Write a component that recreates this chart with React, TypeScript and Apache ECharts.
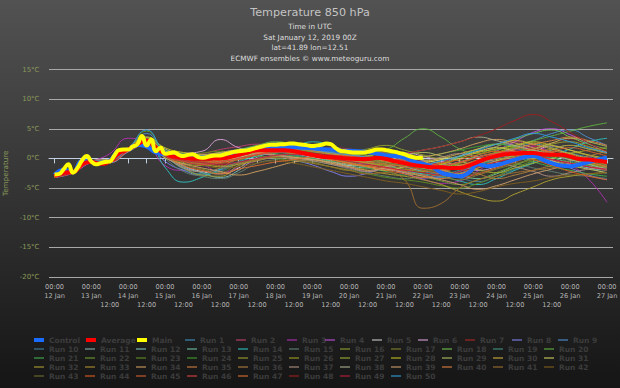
import React, { useEffect, useRef } from "react";
import * as echarts from "echarts";

// ---- time steps (hours after 12 Jan 2019 00Z) ----
const runStepH = 12;
const ctlStepH = 6;
const mainStepH = 3;

// ---- thick lines ----
const controlTemps = [
  -2.8, -1.9, -2.3, -0.4, -0.6, -0.8, -0.4, 1.3, 1.5, 2.3,
  2.0, 1.0, 0.7, 0.6, 0.4, 0.3, 0.2, 0.2, 0.3, 0.6,
  1.0, 1.3, 1.6, 1.8, 1.9, 1.9, 1.9, 1.8, 1.7, 1.6,
  1.5, 1.3, 1.3, 1.2, 1.1, 0.8, 0.5, 0.4, 0.1, -0.5,
  -0.9, -1.4, -2.4, -2.8, -3.0, -2.4, -1.0, -1.3, -1.1, -0.7,
  -0.2, 0.2, 0.4, -0.2, -0.8, -1.2, -1.3, -1.0, -0.6, -0.2,
  0.1,
];
const averageTemps = [
  -3.0, -2.4, -2.3, -1.0, -0.6, -0.9, -0.5, 0.9, 1.5, 2.4,
  3.0, 1.8, 0.8, 0.3, 0.1, 0.0, 0.0, 0.0, 0.0, 0.2,
  0.6, 1.0, 1.4, 1.4, 1.4, 1.4, 1.2, 0.9, 0.6, 0.3,
  0.2, 0.1, 0.0, -0.1, -0.1, 0.1, -0.1, -0.5, -0.8, -1.1,
  -1.3, -1.5, -1.5, -1.6, -1.6, -1.2, -0.6, 0.0, 0.4, 0.7,
  0.8, 0.9, 0.9, 0.7, 0.6, 0.6, 0.3, -0.1, -0.2, -0.4,
  -0.6,
];
const mainTemps = [
  -2.7, -2.6, -1.8, -1.0, -2.4, -1.6, -0.3, 0.4, -0.5, -1.0,
  -0.8, -0.6, -0.5, 0.5, 1.4, 1.5, 1.5, 2.0, 2.4, 3.8,
  2.2, 3.2, 1.2, 1.8, 0.8, 0.9, 1.0, 0.6, 0.4, 0.6,
  0.7, 0.3, 0.1, 0.2, 0.4, 0.5, 0.5, 0.7, 0.9, 1.1,
  1.2, 1.3, 1.4, 1.6, 1.8, 2.0, 2.2, 2.3, 2.3, 2.4,
  2.4, 2.5, 2.5, 2.4, 2.3, 2.2, 2.1, 2.2, 2.3, 2.5,
  2.4, 1.8, 1.3, 1.2, 1.1, 1.0, 1.0, 1.0, 1.1, 1.3,
  1.5, 1.5, 1.4, 1.25, 1.1, 0.9, 0.7, 0.4, 0.2, 0.1,
  0.1,
];

// ---- ensemble members, every 12 h ----
const runTemps: number[][] = [
  [-3.1,-2.4,-0.7,-0.5,1.3,2.8,0.5,-0.3,-0.6,-0.2,0.4,1.0,1.6,1.8,1.2,0.5,-0.4,-1.0,-0.6,-1.4,-2.2,-2.8,-3.0,-1.5,0.2,1.5,2.4,1.8,0.9,0.2,-0.5],
  [-2.9,-2.2,-0.5,-0.2,1.7,3.4,1.2,0.4,0.8,1.5,2.0,2.4,2.1,1.6,1.0,0.6,0.8,1.2,0.5,-0.3,-1.0,-0.6,0.3,1.1,2.0,2.8,2.2,1.0,0.4,-0.6,-1.4],
  [-3.0,-2.3,-0.6,0.8,3.4,2.6,-1.2,-2.0,-1.2,-2.4,-1.5,-0.4,0.2,0.6,0.1,-0.8,-1.5,-2.2,-1.8,-2.6,-3.5,-4.2,-3.8,-2.1,0.0,1.0,2.0,1.0,-1.0,-3.5,-7.4],
  [-3.2,-2.5,-0.8,-0.6,1.2,2.6,0.2,-1.0,-0.5,0.3,1.0,1.8,2.2,1.5,0.9,0.2,-0.3,0.4,1.1,0.6,-0.4,-1.8,-2.6,-1.0,1.2,2.8,4.4,5.0,4.0,2.5,1.0],
  [-3.0,-2.2,-0.5,-0.6,1.4,2.9,0.9,-1.2,-2.2,-2.6,-1.6,0.5,1.0,0.8,0.2,-0.5,-1.2,-0.8,-1.5,-2.0,-1.7,-1.2,-0.6,0.3,0.9,1.2,0.6,-0.2,-0.9,-1.3,-1.8],
  [-2.8,-2.1,-0.4,-0.1,1.8,3.6,1.6,0.9,1.2,3.2,1.8,1.2,1.5,1.9,1.4,0.7,0.2,-0.4,0.3,0.9,0.4,-0.5,-1.2,-2.0,-1.4,-0.2,1.0,2.1,1.4,0.5,-0.3],
  [-3.1,-2.3,-0.7,-0.4,1.5,3.1,0.6,-0.4,-0.2,0.0,0.5,1.1,1.0,0.9,1.3,1.8,1.6,1.0,0.6,0.1,-0.5,-1.0,-0.8,0.2,1.0,1.4,1.9,2.6,3.3,2.0,0.8],
  [-3.0,-2.4,-0.6,-0.7,1.1,2.4,-0.5,-2.0,-2.8,-1.9,-0.9,0.0,0.4,-0.3,-1.1,-2.2,-3.0,-2.5,-1.6,-2.4,-3.3,-3.0,-2.2,-1.0,0.5,1.6,1.0,-0.4,-1.6,-2.8,-3.6],
  [-2.9,-2.3,-0.5,-0.3,1.6,4.2,1.0,0.2,-0.4,0.4,1.2,2.0,2.6,2.3,1.7,1.0,0.2,-0.5,-1.2,-2.0,-2.7,-3.2,-2.5,-1.2,0.4,1.8,3.0,4.2,4.8,3.5,2.2],
  [-3.1,-2.2,-0.6,-0.5,1.3,2.7,0.3,-1.6,-2.6,-2.0,0.0,0.8,1.2,1.4,0.6,-0.2,-0.6,-0.2,0.4,-0.6,-1.6,-2.5,-3.3,-3.9,-3.0,-1.8,-0.6,0.4,-0.4,-1.5,-2.6],
  [-3.0,-2.3,-0.6,-0.2,1.6,3.0,1.1,0.5,0.2,0.4,0.9,1.6,2.0,1.8,1.1,0.4,-0.2,0.0,0.6,0.2,-0.3,-0.9,-1.4,-0.8,0.1,0.5,1.2,0.8,0.0,-0.7,-1.2],
  [-2.9,-2.2,-0.4,-0.4,1.5,2.9,0.7,-1.4,-2.4,-3.2,-2.0,0.2,0.9,1.3,0.5,-0.4,-1.2,-1.6,-0.9,-1.4,-2.0,-1.0,0.4,1.6,2.4,2.0,1.3,0.2,-0.8,-1.6,-2.0],
  [-3.2,-2.4,-0.7,-0.6,1.4,2.8,0.4,-0.6,-0.9,-0.4,0.6,1.4,1.7,2.2,1.6,0.8,0.5,0.8,0.0,-0.8,-1.3,-2.0,-2.8,-3.4,-2.6,-1.2,0.2,1.4,2.2,1.6,1.0],
  [-3.0,-2.3,-0.5,-0.3,1.6,3.2,-1.5,-4.0,-3.2,-1.8,-0.6,0.4,1.2,1.9,2.8,2.2,1.0,0.0,-1.0,-2.0,-2.6,-3.0,-3.8,-4.4,-3.4,-2.0,-0.8,0.4,1.6,2.8,3.4],
  [-3.1,-2.4,-0.6,-0.5,1.2,2.6,0.0,-2.2,-3.0,-3.4,-2.4,-0.8,-0.2,0.2,-0.4,-1.0,-1.8,-2.4,-3.0,-3.4,-2.8,-2.0,-1.4,-0.6,0.0,-0.8,-1.6,-2.2,-2.8,-3.0,-3.4],
  [-2.9,-2.2,-0.5,-0.3,1.7,3.2,1.4,0.6,0.3,0.8,1.4,1.9,1.6,1.1,0.7,0.3,0.9,1.6,2.2,1.4,0.6,-0.2,-1.0,-0.4,0.8,1.9,2.6,1.8,0.6,-0.4,-1.0],
  [-3.0,-2.3,-0.6,-0.4,1.5,3.0,0.8,-1.0,-1.8,-2.4,-0.8,-0.2,0.4,0.0,-0.6,-1.4,-2.0,-1.5,-0.9,-1.6,-2.4,-3.0,-3.6,-2.8,-1.8,-1.0,-0.2,0.4,1.0,0.5,-0.2],
  [-3.1,-2.3,-0.6,-0.6,1.3,2.8,0.6,0.1,0.5,1.0,1.5,2.2,2.8,2.4,1.8,1.2,0.8,0.5,0.0,-0.6,-1.0,-1.2,-0.6,0.6,2.0,3.2,4.2,4.8,3.6,2.4,1.6],
  [-3.0,-2.4,-0.7,-0.5,1.4,2.9,0.5,-1.8,-2.6,-2.2,-0.5,0.6,1.0,0.6,0.0,-0.6,-0.3,0.3,-0.4,-1.2,-2.0,-2.6,-2.0,-1.1,-0.4,0.4,1.2,0.6,-0.2,-1.0,-2.0],
  [-2.9,-2.2,-0.5,-0.3,1.8,3.5,1.5,0.8,0.5,0.2,0.6,1.2,1.4,0.9,0.4,0.0,0.4,1.0,1.5,3.4,5.0,3.6,1.6,0.8,1.4,2.2,3.0,3.8,4.6,5.4,6.0],
  [-3.0,-2.3,-0.6,-0.4,1.6,3.1,0.9,0.2,-0.2,0.0,0.5,1.0,0.8,0.4,0.0,-0.5,-1.0,-1.6,-2.2,-2.8,-2.0,-1.0,0.2,1.4,1.0,0.2,-0.6,-1.4,-2.0,-2.6,-3.0],
  [-3.1,-2.4,-0.7,-0.6,1.3,2.7,0.4,-0.4,-0.8,-0.6,-0.2,0.6,1.1,1.5,1.2,0.6,0.0,-0.8,-1.4,-2.2,-3.0,-3.8,-4.4,-3.6,-2.4,-1.2,0.0,0.8,0.2,-0.8,-1.8],
  [-3.0,-2.2,-0.5,-0.2,1.7,4.6,1.3,0.6,0.9,1.2,0.8,0.4,0.0,-0.4,-0.8,-1.4,-2.0,-2.6,-3.2,-3.6,-4.0,-4.6,-5.0,-4.2,-3.0,-1.6,-0.4,0.6,0.0,-0.8,-1.4],
  [-2.9,-2.3,-0.6,-0.5,1.5,3.0,0.6,-0.2,-0.5,-0.1,0.7,1.5,2.0,1.7,1.0,0.4,-0.1,-0.6,-1.0,-0.6,0.2,0.8,1.4,2.0,2.4,1.8,1.0,0.2,-0.6,-1.2,-1.6],
  [-3.0,-2.3,-0.6,-0.4,1.4,2.8,0.5,-1.6,-2.8,-3.0,-1.2,-0.4,0.3,0.8,0.4,0.0,-0.6,-1.2,-0.8,-0.2,-0.9,-1.8,-2.5,-1.6,-0.4,0.6,1.5,2.4,2.8,2.0,1.2],
  [-3.1,-2.4,-0.7,-0.5,1.3,2.7,0.2,-0.8,-1.2,-0.7,0.2,1.0,1.5,1.2,0.6,0.1,-0.4,-0.8,-1.2,-1.8,-2.2,-1.6,-0.8,0.2,1.0,1.8,1.4,0.6,-0.2,-0.9,-1.5],
  [-3.0,-2.2,-0.5,-0.3,1.6,3.1,1.0,0.3,0.0,0.3,0.9,1.6,1.9,1.5,0.9,0.3,0.0,0.4,0.9,0.4,-0.2,-0.8,-1.3,-1.9,-2.4,-1.6,-0.8,0.0,0.8,1.4,1.8],
  [-2.9,-2.2,-0.4,-0.2,1.8,3.6,1.8,1.0,0.6,0.2,0.8,1.4,1.8,2.0,1.4,0.8,0.4,0.0,-0.4,-1.0,-1.6,-1.0,0.0,1.0,1.6,2.2,2.8,2.2,1.4,0.6,0.0],
  [-3.0,-2.3,-0.6,-0.4,1.5,3.0,0.8,0.0,-0.4,-0.2,0.4,1.2,1.6,1.3,0.8,0.2,-0.2,-0.6,-0.2,0.4,1.0,0.4,-0.4,-1.2,-0.4,0.6,1.6,2.6,3.4,2.8,2.0],
  [-3.1,-2.4,-0.6,-0.5,1.4,2.9,0.7,0.1,0.4,0.7,1.2,1.6,1.4,1.0,0.6,0.2,-0.2,-0.4,-0.8,-1.2,-0.6,0.0,0.8,1.6,2.4,3.0,2.4,1.6,0.8,0.0,-0.6],
  [-3.0,-2.3,-0.5,-0.3,1.6,3.2,1.1,0.4,0.1,-0.3,0.2,0.9,1.2,1.0,0.4,-0.2,-0.8,-1.4,-2.0,-1.4,-0.8,-0.2,0.4,1.2,1.8,1.2,0.4,-0.4,-1.2,-1.8,-2.4],
  [-3.0,-2.3,-0.6,-0.5,1.4,2.8,0.4,-0.5,-0.9,-1.4,-1.0,-0.2,0.4,0.2,-0.2,-0.8,-1.4,-2.0,-2.6,-3.0,-3.6,-4.4,-5.6,-6.6,-7.2,-6.0,-4.8,-3.6,-3.0,-2.6,-2.4],
  [-2.9,-2.2,-0.5,-0.4,1.5,3.0,0.9,0.2,-0.2,0.3,1.0,1.7,2.1,1.8,1.2,0.6,0.2,-0.2,-0.6,-1.0,-1.4,-1.8,-1.4,-0.8,-0.2,0.4,1.0,1.6,2.2,1.6,0.8],
  [-3.1,-2.4,-0.7,-0.6,1.2,2.6,0.1,-0.9,-1.6,-2.2,-2.8,-2.2,-1.4,-0.6,-0.2,-0.8,-1.4,-2.0,-1.4,-0.6,0.2,0.8,1.6,2.6,3.2,2.6,1.8,1.0,0.2,-0.6,-1.2],
  [-3.0,-2.3,-0.6,-0.4,1.5,3.0,0.6,-0.2,0.2,0.8,1.3,1.8,1.5,0.9,0.4,0.0,-0.4,-0.9,-1.5,-2.2,-2.8,-3.4,-2.6,-1.6,-0.6,0.2,0.8,1.2,0.6,-0.2,-1.0],
  [-2.9,-2.2,-0.5,-0.3,1.7,3.3,1.2,0.5,0.2,0.6,1.1,1.5,1.8,1.6,1.2,0.9,0.6,0.3,0.0,-0.4,-0.8,-1.2,-1.8,-2.6,-3.4,-2.8,-2.0,-1.2,-0.4,0.4,1.2],
  [-3.0,-2.3,-0.6,-0.5,1.4,2.9,0.5,-1.6,-2.2,-1.6,0.2,0.8,0.5,0.1,-0.4,-1.0,-1.6,-2.2,-1.6,-1.0,-0.4,0.2,0.8,0.2,-0.6,-1.4,-2.2,-3.0,-2.4,-1.8,-1.4],
  [-3.1,-2.3,-0.6,-0.4,1.5,3.0,0.7,0.0,-0.3,0.1,0.6,1.2,1.4,1.2,0.8,0.4,0.0,-0.2,0.2,0.8,1.4,2.0,2.8,3.6,3.0,2.2,1.4,0.6,-0.2,-1.0,-1.8],
  [-3.0,-2.2,-0.5,-0.2,1.6,3.2,1.0,0.3,0.6,1.0,1.4,1.0,0.6,0.2,-0.2,-0.6,-1.0,-1.4,-1.8,-2.4,-3.0,-3.6,-4.4,-5.2,-4.6,-3.6,-2.6,-1.8,-1.0,-0.6,-0.2],
  [-2.9,-2.3,-0.6,-0.4,1.5,3.1,0.8,0.1,-0.3,-0.6,0.0,0.8,1.4,1.8,1.4,1.0,0.6,0.2,-0.4,-1.0,-1.6,-2.0,-1.2,-0.2,0.8,1.6,2.4,3.0,3.6,3.0,2.2],
  [-3.0,-2.3,-0.6,-0.5,1.4,2.8,0.4,-0.4,-0.8,-1.2,-0.8,-0.2,0.2,-0.2,-0.8,-1.4,-2.0,-2.6,-2.4,-3.6,-8.4,-7.6,-5.0,-3.6,-3.0,-2.4,-2.0,-1.6,-1.2,-0.8,-0.6],
  [-3.1,-2.4,-0.7,-0.5,1.3,2.7,0.3,-0.6,-1.1,-1.6,-1.4,-0.8,-0.4,-0.8,-1.4,-2.0,-2.6,-3.2,-3.8,-4.2,-4.8,-5.4,-6.0,-5.6,-4.8,-4.2,-3.8,-3.2,-2.8,-2.6,-2.4],
  [-3.0,-2.3,-0.6,-0.3,1.6,3.1,0.9,0.1,-0.3,0.2,0.8,1.3,1.6,1.4,0.9,0.5,0.1,-0.3,-0.8,-1.2,-1.8,-2.4,-3.0,-2.4,-1.6,-0.8,-0.2,0.4,0.0,-0.6,-1.2],
  [-3.0,-2.2,-0.5,-0.4,1.5,3.0,0.7,-0.1,-0.5,-0.8,-0.2,0.6,1.2,1.0,0.4,-0.2,-0.8,-1.2,-1.6,-2.0,-1.4,-0.8,-0.2,0.6,1.2,0.6,-0.2,-1.2,-2.2,-3.0,-3.6],
  [-2.9,-2.3,-0.6,-0.4,1.5,2.9,0.6,-0.2,-0.6,-0.3,0.4,1.1,1.5,1.2,0.8,0.4,-0.2,-0.6,-1.0,-1.4,-2.0,-2.6,-3.2,-2.6,-1.6,-0.6,0.4,1.2,1.8,1.2,0.4],
  [-3.1,-2.4,-0.7,-0.6,1.3,2.8,0.4,-0.5,-1.0,-0.6,0.0,0.6,1.0,1.2,0.9,0.6,0.4,0.2,0.0,-0.4,-0.8,-1.2,-0.6,0.2,0.8,1.2,0.6,-0.2,-0.8,-1.4,-2.0],
  [-3.0,-2.3,-0.6,-0.4,1.4,2.9,0.6,-1.2,-2.0,-2.6,-1.8,-1.2,-0.6,-0.2,0.2,-0.2,-0.8,-1.4,-2.0,-2.6,-3.2,-2.4,-1.4,-0.4,0.4,1.0,1.6,1.0,0.2,-0.6,-1.4],
  [-3.0,-2.3,-0.6,-0.4,1.5,3.0,0.8,0.0,-0.4,0.0,0.6,1.2,1.5,1.3,0.9,0.5,0.1,-0.3,0.2,0.8,1.4,2.0,2.8,3.8,5.0,6.4,7.4,6.2,4.4,2.6,1.2],
  [-3.1,-2.4,-0.6,-0.5,1.4,2.8,0.5,-0.3,-0.7,-1.0,-0.6,0.0,0.5,0.7,0.4,0.0,-0.5,-1.0,-1.5,-2.0,-2.4,-2.8,-2.2,-1.4,-0.6,0.0,0.4,-0.2,-0.8,-1.4,-1.8],
  [-2.9,-2.2,-0.5,-0.3,1.7,4.8,1.3,0.6,0.3,0.8,1.4,2.0,2.4,2.0,1.5,1.0,0.6,0.2,-0.2,-0.6,-1.0,-0.4,0.4,1.4,2.4,3.4,4.2,3.6,2.8,1.8,1.0],
];

const runColors = [
  "#3f8fbf", "#bf3f6f", "#b030b0", "#c050e0", "#c8c8c8", "#d8a0d8", "#b02828", "#7f7fef", "#4f8fcf",
  "#3f7f9f", "#7fafaf", "#7fbfbf", "#6fbf9f", "#2fbfbf", "#5f7f6f", "#8f9f2f", "#7f7f2f", "#6fbf4f", "#3f8f7f", "#5faf3f",
  "#3faf4f", "#6f9f2f", "#5f8f1f", "#3f9f2f", "#9f9f2f", "#9f9f1f", "#9faf2f", "#bfbf1f", "#afbf5f", "#cfaf3f", "#cfcf5f",
  "#af9f2f", "#af8f2f", "#cf9f5f", "#cf7f3f", "#af7f3f", "#af8f7f", "#afaf8f", "#cf9f6f", "#df7f3f", "#9f6f2f", "#7f5f1f",
  "#6f6f2f", "#df5f1f", "#cf5f2f", "#df3f3f", "#df6f2f", "#9f1f1f", "#bf1f3f", "#2f9fdf",
];

const mainNames = ["Control", "Average", "Main"];
const mainColors = ["#1a6cff", "#ff0000", "#ffff00"];
const monthLabel = "Jan";
const firstDay = 12;
const tickHours = Array.from({ length: 31 }, (_, i) => i * 12);

const FONT = "'DejaVu Sans', sans-serif";

const pairs = (vals: number[], step: number) => vals.map((v, i) => [i * step, v]);

export default function App() {
  const ref = useRef<HTMLDivElement>(null);
  useEffect(() => {
    const chart = echarts.init(ref.current!, undefined, { renderer: "svg" });
    const runNames = runTemps.map((_, i) => `Run ${i + 1}`);
    const series: any[] = runTemps.map((vals, i) => ({
      name: runNames[i],
      type: "line",
      data: pairs(vals, runStepH),
      smooth: true,
      symbol: "none",
      showSymbol: false,
      silent: true,
      lineStyle: { width: 1, color: runColors[i], opacity: 0.95 },
      itemStyle: { color: runColors[i] },
      z: 2,
    }));
    const thick = [
      { name: "Control", vals: controlTemps, step: ctlStepH, color: mainColors[0] },
      { name: "Average", vals: averageTemps, step: ctlStepH, color: mainColors[1] },
      { name: "Main", vals: mainTemps, step: mainStepH, color: mainColors[2] },
    ];
    thick.forEach((t, k) =>
      series.push({
        name: t.name,
        type: "line",
        data: pairs(t.vals, t.step),
        smooth: true,
        symbol: "none",
        showSymbol: false,
        silent: true,
        lineStyle: { width: 4, color: t.color },
        itemStyle: { color: t.color },
        z: 3 + k,
      })
    );

    const allNames = [...mainNames, ...runNames];
    const row1X = [34, 86, 137, 185, 236, 287, 325, 372, 418, 465, 512, 558];
    const rowY = [340, 349, 358, 367, 376];
    const legends = allNames.map((name, i) => {
      let x: number, row: number;
      if (i < 12) {
        x = row1X[i];
        row = 0;
      } else {
        const j = i - 12;
        row = 1 + Math.floor(j / 11);
        x = 34 + 51 * (j % 11);
      }
      return {
        data: [name],
        left: x,
        top: rowY[row] - 5,
        padding: 0,
        itemWidth: 10,
        itemHeight: i < 3 ? 4 : 2,
        icon: "rect",
        selectedMode: false,
        itemStyle: { opacity: i < 3 ? 1 : 0.55 },
        textStyle: { color: "#3c3c3c", fontSize: 7.5, fontWeight: "bold", fontFamily: FONT, lineHeight: 10 },
      };
    });

    const option: any = {
      animation: false,
      backgroundColor: "transparent",
      title: {
        text: "Temperature 850 hPa",
        subtext: "Time in UTC\nSat January 12, 2019 00Z\nlat=41.89 lon=12.51\nECMWF ensembles © www.meteoguru.com",
        left: "center",
        top: 5,
        padding: 0,
        itemGap: 2.5,
        textStyle: { color: "#c4c4c4", fontSize: 11.2, fontWeight: "normal", fontFamily: FONT, lineHeight: 14 },
        subtextStyle: { color: "#dedede", fontSize: 7.3, fontFamily: FONT, lineHeight: 10.5 },
      },
      legend: legends,
      grid: { left: 49, right: 7, top: 69.5, bottom: 111, containLabel: false, outerBoundsMode: "none" },
      xAxis: {
        type: "value",
        min: -3.6,
        max: 363.9,
        splitLine: { show: false },
        axisLine: { lineStyle: { color: "#C0D0E0", width: 1 } },
        axisTick: { customValues: tickHours, length: 5, lineStyle: { color: "#C0D0E0" } },
        axisLabel: {
          customValues: tickHours,
          interval: 0,
          hideOverlap: false,
          showMinLabel: true,
          showMaxLabel: true,
          margin: 5.5,
          color: "#b4b4b4",
          fontSize: 6.6,
          fontFamily: FONT,
          lineHeight: 9,
          formatter: (v: number) => {
            const h = Math.round(v);
            if (h % 24 === 0) return `00:00\n${firstDay + h / 24} ${monthLabel}`;
            return `\n\n12:00`;
          },
        },
      },
      yAxis: {
        type: "value",
        min: -20,
        max: 15,
        interval: 5,
        name: "Temperature",
        nameLocation: "middle",
        nameGap: 33,
        nameTextStyle: { color: "#8a9a5a", fontSize: 7.2, fontFamily: FONT },
        axisLine: { show: false },
        axisTick: { show: false },
        axisLabel: {
          formatter: (v: number) => `${v}°C`,
          color: "#8a9a5a",
          fontSize: 7,
          fontFamily: FONT,
          margin: 9.5,
          padding: [2.6, 0, 0, 0],
        },
        splitLine: { lineStyle: { color: "#a8a8a8", width: 1 } },
      },
      series,
    };
    chart.setOption(option);
    return () => chart.dispose();
  }, []);
  return (
    <div
      ref={ref}
      style={{
        position: "fixed",
        left: 0,
        top: 0,
        width: 620,
        height: 388,
        background: "linear-gradient(#525252, #151515)",
      }}
    />
  );
}
